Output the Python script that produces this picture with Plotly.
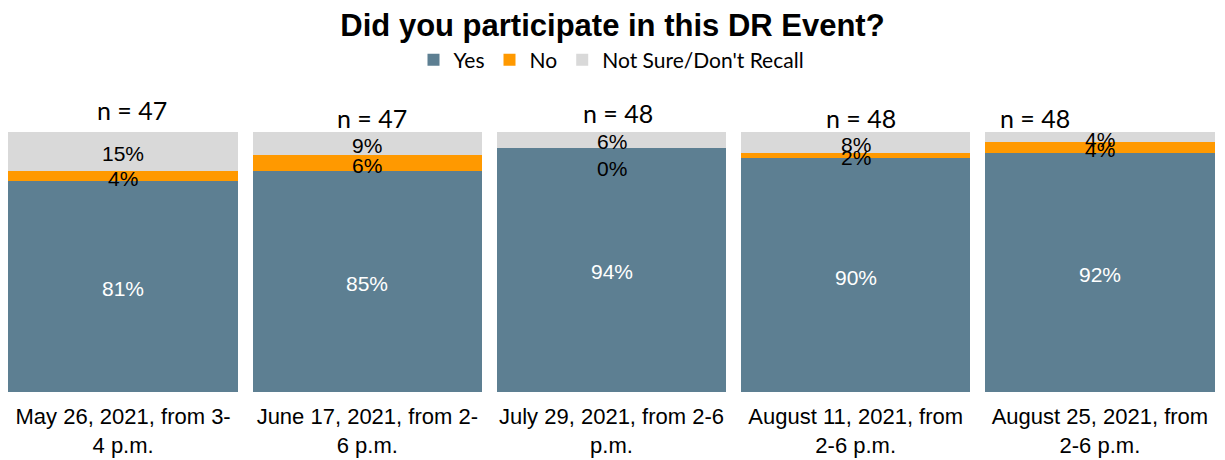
import plotly.graph_objects as go

# Survey results per DR event (percent of respondents)
events = [
    "May 26, 2021, from 3-<br>4 p.m.",
    "June 17, 2021, from 2-<br>6 p.m.",
    "July 29, 2021, from 2-6<br>p.m.",
    "August 11, 2021, from<br>2-6 p.m.",
    "August 25, 2021, from<br>2-6 p.m.",
]
yes_pct = [81, 85, 94, 90, 92]
no_pct = [4, 6, 0, 2, 4]
unsure_pct = [15, 9, 6, 8, 4]
sample_sizes = [47, 47, 48, 48, 48]

series = [
    ("Yes", yes_pct, "#5D7F92", "white"),
    ("No", no_pct, "#FF9900", "black"),
    ("Not Sure/Don't Recall", unsure_pct, "#D9D9D9", "black"),
]

fig = go.Figure()
for name, vals, color, _ in series:
    fig.add_trace(go.Bar(
        x=events, y=vals, name=name,
        marker=dict(color=color, line=dict(width=0)),
        hovertemplate="%{x}<br>" + name + ": %{y}%<extra></extra>",
    ))

# Value labels centred in each stacked segment
annotations = []
base = [0] * len(events)
for name, vals, color, txtcolor in series:
    for i, v in enumerate(vals):
        annotations.append(dict(
            x=events[i], y=base[i] + v / 2, xref="x", yref="y",
            text=f"{v}%", showarrow=False,
            font=dict(family="Liberation Sans", size=21, color=txtcolor),
            yshift=-2 if v > 0 else -21,
        ))
        base[i] += v

# Sample size labels above the bars (pixel offsets relative to bar centre / plot top)
n_offsets = [(9, 22), (5, 14), (6, 19), (5, 14), (-65, 14)]
for i, n in enumerate(sample_sizes):
    dx, dy = n_offsets[i]
    annotations.append(dict(
        x=events[i], y=1, xref="x", yref="paper",
        text=f"n = {n}", showarrow=False,
        font=dict(family="Lato", size=25, color="black"),
        xshift=dx, yshift=dy, yanchor="middle",
    ))

fig.update_layout(
    barmode="stack",
    bargap=0.06,
    width=1225, height=460,
    margin=dict(l=1, r=3, t=132, b=68, autoexpand=False),
    paper_bgcolor="white", plot_bgcolor="white",
    title=dict(
        text="<b>Did you participate in this DR Event?</b>",
        x=0.5, xanchor="center", y=0.945, yanchor="middle",
        font=dict(family="Liberation Sans", size=31, color="black"),
    ),
    legend=dict(
        orientation="h", x=0.5, xanchor="center", y=1.277, yanchor="middle",
        font=dict(family="Lato", size=21, color="black"),
        traceorder="normal", itemwidth=30,
    ),
    xaxis=dict(
        showline=False, ticks="", showgrid=False, automargin=False,
        ticklabelstandoff=9,
        tickfont=dict(family="Liberation Sans", size=22, color="black"),
    ),
    yaxis=dict(range=[0, 100], visible=False, showgrid=False),
    annotations=annotations,
    showlegend=True,
)

fig.write_html("out.html")
